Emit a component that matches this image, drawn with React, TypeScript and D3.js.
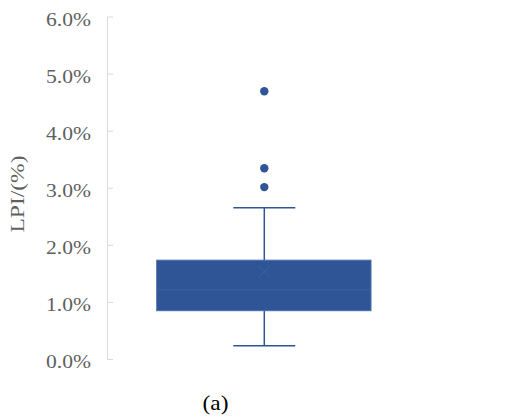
import React from "react";
import * as d3 from "d3";

const yTicks = [0, 1, 2, 3, 4, 5, 6];
const boxStats = { min: 0.24, q1: 0.855, median: 1.22, q3: 1.74, max: 2.66, mean: 1.54 };
const outliers = [4.7, 3.35, 3.02];
const yLabel = "LPI/(%)";
const caption = "(a)";

const W = 521;
const H = 417;
const fill = "#2F5597";

export default function App() {
  const y = d3.scaleLinear().domain([0, 6]).range([359.5, 17]);
  const cx = 264.3;
  const boxL = 156.7;
  const boxR = 371;
  const capHalf = 31;
  const fontSerif = "'Liberation Serif', 'Times New Roman', serif";
  const mx = 6;
  return (
    <svg width={W} height={H} style={{ position: "absolute", left: 0, top: 0 }} fontFamily={fontSerif}>
      <rect width={W} height={H} fill="#fff" />
      {/* y axis */}
      <line x1={107.5} x2={107.5} y1={y(6)} y2={y(0)} stroke="#d9d9d9" strokeWidth={1} />
      {yTicks.map((t) => (
        <g key={t}>
          <line x1={107.5} x2={113} y1={y(t)} y2={y(t)} stroke="#d9d9d9" strokeWidth={1} />
          <text
            x={91}
            y={y(t) + 8.5}
            textAnchor="end"
            fontSize={19.5}
            fill="#5f5f5f"
            textLength={45}
            lengthAdjust="spacingAndGlyphs"
          >
            {d3.format(".1f")(t) + "%"}
          </text>
        </g>
      ))}
      <text
        transform={`translate(24,194) rotate(-90)`}
        textAnchor="middle"
        fontSize={19}
        fill="#5f5f5f"
        textLength={77}
        lengthAdjust="spacingAndGlyphs"
      >
        {yLabel}
      </text>
      {/* whiskers */}
      <line x1={cx} x2={cx} y1={y(boxStats.max)} y2={y(boxStats.q3)} stroke={fill} strokeWidth={1.5} />
      <line x1={cx} x2={cx} y1={y(boxStats.q1)} y2={y(boxStats.min)} stroke={fill} strokeWidth={1.5} />
      <line x1={cx - capHalf} x2={cx + capHalf} y1={y(boxStats.max)} y2={y(boxStats.max)} stroke={fill} strokeWidth={1.5} />
      <line x1={cx - capHalf} x2={cx + capHalf} y1={y(boxStats.min)} y2={y(boxStats.min)} stroke={fill} strokeWidth={1.5} />
      {/* box */}
      <rect
        x={boxL}
        y={y(boxStats.q3)}
        width={boxR - boxL}
        height={y(boxStats.q1) - y(boxStats.q3)}
        fill={fill}
        stroke="#4a6fae"
        strokeWidth={1}
      />
      <line x1={boxL} x2={boxR} y1={y(boxStats.median)} y2={y(boxStats.median)} stroke="#3d62a3" strokeWidth={1} />
      <g stroke="#3d62a3" strokeWidth={1}>
        <line x1={cx - mx} x2={cx + mx} y1={y(boxStats.mean) - mx} y2={y(boxStats.mean) + mx} />
        <line x1={cx - mx} x2={cx + mx} y1={y(boxStats.mean) + mx} y2={y(boxStats.mean) - mx} />
      </g>
      {outliers.map((o, i) => (
        <circle key={i} cx={cx} cy={y(o)} r={4.2} fill={fill} />
      ))}
      <text x={215.5} y={410} textAnchor="middle" fontSize={22} fill="#000" textLength={26} lengthAdjust="spacingAndGlyphs">
        {caption}
      </text>
    </svg>
  );
}
